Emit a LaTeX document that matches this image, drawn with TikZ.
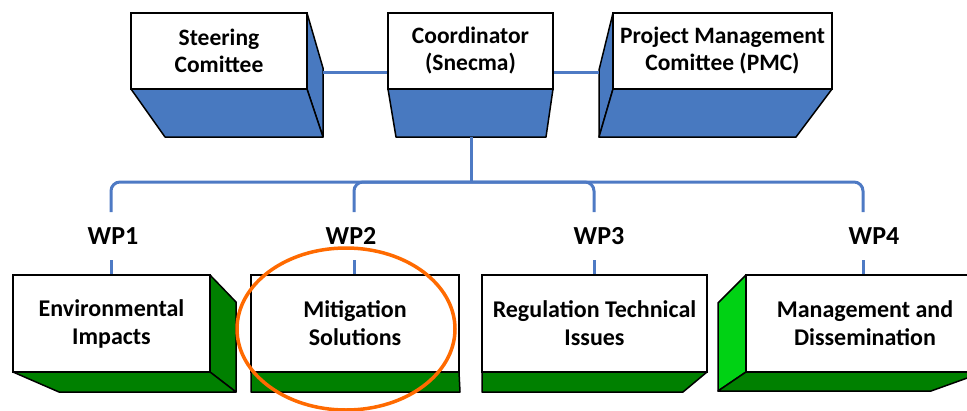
\documentclass[tikz,border=0pt]{standalone}
\usepackage{fontspec}
\setmainfont{Carlito}
\definecolor{boxblue}{RGB}{72,121,192}
\definecolor{lineblue}{RGB}{78,122,196}
\definecolor{darkgreen}{RGB}{0,128,0}
\definecolor{lightgreen}{RGB}{0,210,20}
\definecolor{hiorange}{RGB}{255,106,0}
\begin{document}
\begin{tikzpicture}[x=1pt,y=-1pt,
  front/.style={draw=black, line width=1.5pt, fill=white, inner sep=0pt, align=center, font=\bfseries},
  topfont/.style={font=\fontsize{23.5}{27}\selectfont\bfseries},
  botfont/.style={font=\fontsize{24}{28}\selectfont\bfseries},
  bluefaces/.style={draw=black, line width=1.5pt, fill=boxblue, line join=round},
  greenfaces/.style={draw=black, line width=1.5pt, fill=darkgreen, line join=round},
  lightfaces/.style={draw=black, line width=1.5pt, fill=lightgreen, line join=round},
  conn/.style={draw=lineblue, line width=3pt},
  wplabel/.style={font=\fontsize{26}{30}\selectfont\bfseries, inner sep=0pt}
]
\useasboundingbox (0,0) rectangle (967,410);
\clip (0,0) rectangle (967,410);

% ---------- top row ----------
% Steering committee
\filldraw[bluefaces] (307,13) -- (323,68) -- (323,137) -- (307,89) -- cycle;
\filldraw[bluefaces] (131,89) -- (307,89) -- (323,137) -- (165,137) -- cycle;
\node[front, topfont, minimum width=176pt, minimum height=76pt] (steer) at (219,51) {Steering\\Comittee};
\coordinate (steerR) at (323,72);

% Coordinator
\filldraw[bluefaces] (388,89) -- (553,89) -- (546,137) -- (396,137) -- cycle;
\node[front, topfont, minimum width=165pt, minimum height=76pt] (coord) at (470.5,51) {Coordinator\\(Snecma)};
\coordinate (coordB) at (471,137);

% PMC
\filldraw[bluefaces] (613,13) -- (599,70) -- (599,137) -- (613,89) -- cycle;
\filldraw[bluefaces] (613,89) -- (832,89) -- (796,137) -- (599,137) -- cycle;
\node[front, topfont, minimum width=219pt, minimum height=76pt] (pmc) at (722.5,51) {Project Management\\Comittee (PMC)};
\coordinate (pmcL) at (599,72);

% top connectors
\draw[conn] (steerR) -- (steerR -| coord.west);
\draw[conn] (coord.east |- pmcL) -- (pmcL);

% ---------- tree connectors ----------
\coordinate (bus) at (471,182);
\draw[conn] (coordB) -- (bus);
\coordinate (d1) at (111,212);
\coordinate (d2) at (354,212);
\coordinate (d3) at (594,212);
\coordinate (d4) at (863,212);
\draw[conn, rounded corners=9pt] (d1) -- (d1 |- bus) -- (d3 |- bus) -- (d3);
\draw[conn, rounded corners=9pt] (d2) -- (d2 |- bus) -- (d4 |- bus) -- (d4);

% WP labels
\node[wplabel] (wp1) at (113,236) {WP1};
\node[wplabel] (wp2) at (351,236) {WP2};
\node[wplabel] (wp3) at (599,236) {WP3};
\node[wplabel] (wp4) at (874,236) {WP4};

% ---------- bottom row ----------
% Environmental Impacts
\filldraw[greenfaces] (210,275) -- (236,302) -- (236,392) -- (210,372) -- cycle;
\filldraw[greenfaces] (13,372) -- (210,372) -- (236,392) -- (59,392) -- cycle;
\node[front, botfont, minimum width=197pt, minimum height=97pt] (env) at (111.5,323.5) {Environmental\\Impacts};

% Mitigation Solutions
\filldraw[greenfaces] (251,372) -- (459,372) -- (460,392) -- (251,392) -- cycle;
\node[front, botfont, minimum width=208pt, minimum height=97pt] (mit) at (355,323.5) {Mitigation\\Solutions};

% Regulation Technical Issues
\filldraw[greenfaces] (482,372) -- (707,372) -- (683,392) -- (482,392) -- cycle;
\node[front, botfont, minimum width=225pt, minimum height=97pt] (reg) at (594.5,323.5) {Regulation Technical\\Issues};

% Management and Dissemination
\filldraw[lightfaces] (746,275) -- (718,303) -- (718,391) -- (746,372) -- cycle;
\filldraw[greenfaces] (746,372) -- (984,372) -- (931,391) -- (718,391) -- cycle;
\node[front, botfont, minimum width=238pt, minimum height=97pt] (mgmt) at (865,323.5) {Management and\\Dissemination};

% stubs from labels to boxes
\coordinate (s1) at (111,260);
\coordinate (s2) at (354,260);
\coordinate (s3) at (594,260);
\coordinate (s4) at (863,260);
\draw[conn] (s1) -- (s1 |- env.north);
\draw[conn] (s2) -- (s2 |- mit.north);
\draw[conn] (s3) -- (s3 |- reg.north);
\draw[conn] (s4) -- (s4 |- mgmt.north);

% highlight ellipse
\draw[hiorange, line width=3.5pt] (346,329) ellipse [x radius=109pt, y radius=81pt];
\end{tikzpicture}
\end{document}
